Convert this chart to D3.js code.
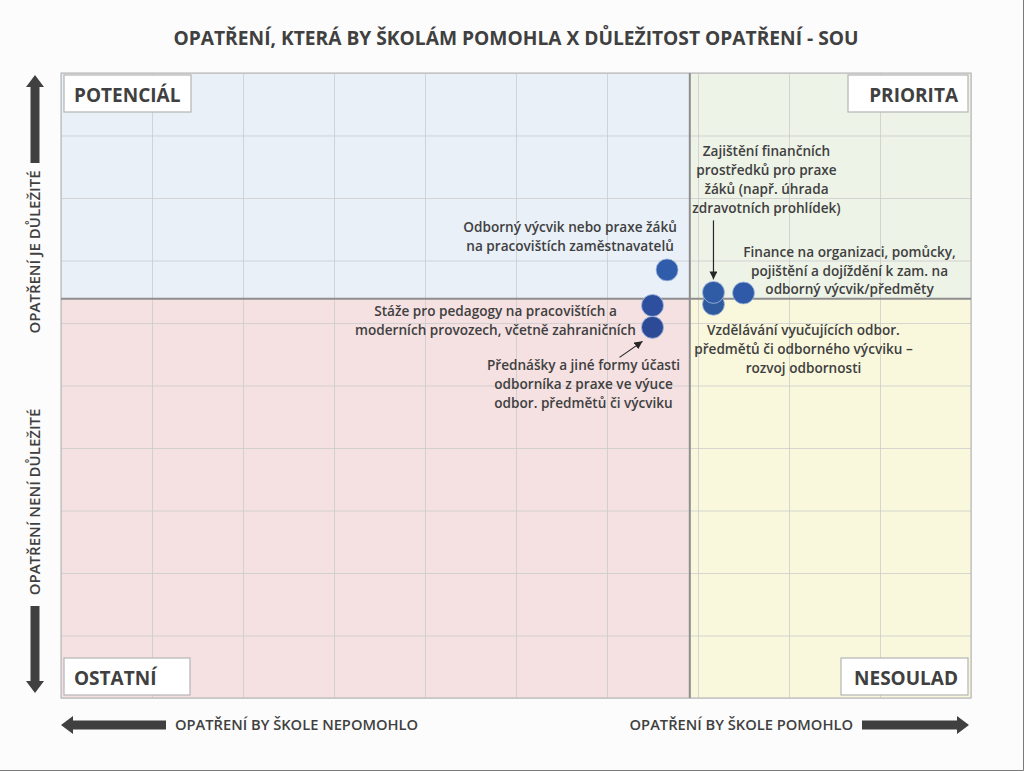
<!DOCTYPE html>
<html>
<head>
<meta charset="utf-8">
<script src="https://cdn.jsdelivr.net/npm/d3@7"></script>
<style>
  html, body { margin: 0; padding: 0; background: #fcfcfc; }
  svg { display: block; }
  text { font-family: "Open Sans", "Noto Sans", sans-serif; fill: #404040; }
</style>
</head>
<body>
<script>
// ---------- DATA ----------
const title = "OPATŘENÍ, KTERÁ BY ŠKOLÁM POMOHLA X DŮLEŽITOST OPATŘENÍ - SOU";
const measures = [
  "Odborný výcvik nebo praxe žáků na pracovištích zaměstnavatelů",
  "Stáže pro pedagogy na pracovištích a moderních provozech, včetně zahraničních",
  "Přednášky a jiné formy účasti odborníka z praxe ve výuce odbor. předmětů či výcviku",
  "Vzdělávání vyučujících odbor. předmětů či odborného výcviku – rozvoj odbornosti",
  "Zajištění finančních prostředků pro praxe žáků (např. úhrada zdravotních prohlídek)",
  "Finance na organizaci, pomůcky, pojištění a dojíždění k zam. na odborný výcvik/předměty"
];
const helpValues = [66.6, 65.0, 65.0, 71.7, 71.7, 75.0];        // x: opatření by škole pomohlo
const importanceValues = [68.5, 62.8, 59.3, 63.0, 64.9, 64.8];  // y: důležitost opatření
const labelLines = [
  ["Odborný výcvik nebo praxe žáků", "na pracovištích zaměstnavatelů"],
  ["Stáže pro pedagogy na pracovištích a", "moderních provozech, včetně zahraničních"],
  ["Přednášky a jiné formy účasti", "odborníka  z praxe ve výuce", "odbor. předmětů či výcviku"],
  ["Vzdělávání vyučujících odbor.", "předmětů či odborného výcviku –", "rozvoj odbornosti"],
  ["Zajištění finančních", "prostředků pro praxe", "žáků (např. úhrada", "zdravotních prohlídek)"],
  ["Finance na organizaci, pomůcky,", "pojištění a dojíždění k zam. na", "odborný výcvik/předměty"]
];
const xDomain = [0, 100];
const yDomain = [0, 100];
const gridTicks = [0, 10, 20, 30, 40, 50, 60, 70, 80, 90, 100];
const xDivider = 69.1;
const yDivider = 63.9;
const quadrantNames = ["POTENCIÁL", "PRIORITA", "OSTATNÍ", "NESOULAD"];
const yAxisTexts = ["OPATŘENÍ JE DŮLEŽITÉ", "OPATŘENÍ NENÍ DŮLEŽITÉ"];
const xAxisTexts = ["OPATŘENÍ BY ŠKOLE NEPOMOHLO", "OPATŘENÍ BY ŠKOLE POMOHLO"];

// ---------- LAYOUT / STYLE ----------
const W = 1024, H = 771;
const plot = { left: 61, right: 971, top: 73, bottom: 698 };
// label placement relative to each point (pixels): text centre x, first-line y, optional arrow
const labelPlace = [
  { dx: -97, dy: -43 },
  { dx: -157, dy: 6 },
  { dx: -69, dy: 38, arrow: [-33, 30, -10, 14] },
  { dx: 90, dy: 26 },
  { dx: 53, dy: -141, arrow: [0, -72, 0, -13] },
  { dx: 106, dy: -41 }
];
const pointColors = ["#2f5dab", "#2d4f9d", "#2c4a96", "#2f5a9e", "#2f5ca4", "#2e5aa8"];
const drawOrder = [0, 1, 2, 3, 4, 5];

const svg = d3.select("body").append("svg").attr("width", W).attr("height", H);

const defs = svg.append("defs");
defs.append("marker").attr("id", "ah").attr("viewBox", "0 0 10 10")
  .attr("refX", 10).attr("refY", 5).attr("markerWidth", 8).attr("markerHeight", 8)
  .attr("markerUnits", "userSpaceOnUse").attr("orient", "auto")
  .append("path").attr("d", "M0,0 L10,5 L0,10 Z").attr("fill", "#262626");

const x = d3.scaleLinear().domain(xDomain).range([plot.left, plot.right]);
const y = d3.scaleLinear().domain(yDomain).range([plot.bottom, plot.top]);

// quadrant backgrounds
const quads = [
  { x0: xDomain[0], x1: xDivider, y0: yDivider, y1: yDomain[1], fill: "#e9f0f8" },
  { x0: xDivider, x1: xDomain[1], y0: yDivider, y1: yDomain[1], fill: "#eef3e8" },
  { x0: xDomain[0], x1: xDivider, y0: yDomain[0], y1: yDivider, fill: "#f5e1e2" },
  { x0: xDivider, x1: xDomain[1], y0: yDomain[0], y1: yDivider, fill: "#f9f8dd" }
];
svg.append("g").selectAll("rect").data(quads).join("rect")
  .attr("x", d => x(d.x0)).attr("y", d => y(d.y1))
  .attr("width", d => x(d.x1) - x(d.x0)).attr("height", d => y(d.y0) - y(d.y1))
  .attr("fill", d => d.fill);

// grid lines via axes
const gx = svg.append("g").attr("transform", `translate(0,${plot.bottom})`)
  .call(d3.axisBottom(x).tickValues(gridTicks).tickSize(-(plot.bottom - plot.top)).tickFormat(""));
const gy = svg.append("g").attr("transform", `translate(${plot.left},0)`)
  .call(d3.axisLeft(y).tickValues(gridTicks).tickSize(-(plot.right - plot.left)).tickFormat(""));
[gx, gy].forEach(g => {
  g.select(".domain").remove();
  g.selectAll(".tick line").attr("stroke", "#c9c9c9").attr("stroke-opacity", 0.75).attr("stroke-width", 1);
});

// plot border
svg.append("rect").attr("x", plot.left).attr("y", plot.top)
  .attr("width", plot.right - plot.left).attr("height", plot.bottom - plot.top)
  .attr("fill", "none").attr("stroke", "#bdbdbd").attr("stroke-width", 1.2);

// dividers
svg.append("line").attr("x1", x(xDivider)).attr("x2", x(xDivider))
  .attr("y1", plot.top).attr("y2", plot.bottom).attr("stroke", "#8e8e8e").attr("stroke-width", 2);
svg.append("line").attr("x1", plot.left).attr("x2", plot.right)
  .attr("y1", y(yDivider)).attr("y2", y(yDivider)).attr("stroke", "#8e8e8e").attr("stroke-width", 2);

// quadrant label boxes
const qBoxes = [
  { x: 64, y: 75, w: 127, h: 37, anchor: "start", tx: 74 },
  { x: 848, y: 75, w: 120, h: 37, anchor: "end", tx: 958 },
  { x: 64, y: 658, w: 126, h: 37, anchor: "start", tx: 74 },
  { x: 841, y: 658, w: 127, h: 37, anchor: "end", tx: 958 }
];
const qg = svg.append("g").selectAll("g").data(quadrantNames).join("g");
qg.append("rect").attr("x", (d, i) => qBoxes[i].x).attr("y", (d, i) => qBoxes[i].y)
  .attr("width", (d, i) => qBoxes[i].w).attr("height", (d, i) => qBoxes[i].h)
  .attr("fill", "#ffffff").attr("stroke", "#b5b5b5").attr("stroke-width", 1.2);
qg.append("text").attr("x", (d, i) => qBoxes[i].tx).attr("y", (d, i) => qBoxes[i].y + qBoxes[i].h / 2 + 1.5)
  .attr("dy", "0.36em").attr("text-anchor", (d, i) => qBoxes[i].anchor)
  .attr("font-size", 19).attr("font-weight", 700).text(d => d);

// title
svg.append("text").attr("x", 516).attr("y", 38).attr("dy", "0.36em").attr("text-anchor", "middle")
  .attr("font-size", 19.2).attr("font-weight", 700).text(title);

// points
const pts = drawOrder.map(i => ({ i, cx: x(helpValues[i]), cy: y(importanceValues[i]) }));
svg.append("g").selectAll("circle").data(pts).join("circle")
  .attr("cx", d => d.cx).attr("cy", d => d.cy).attr("r", 11)
  .attr("fill", d => pointColors[d.i])
  .attr("stroke", "#a9bedf").attr("stroke-width", 0.8);

// labels
const lg = svg.append("g");
measures.forEach((m, i) => {
  const px = x(helpValues[i]), py = y(importanceValues[i]);
  const p = labelPlace[i];
  const t = lg.append("text").attr("text-anchor", "middle").attr("font-size", 13.6)
    .attr("font-weight", 600);
  labelLines[i].forEach((ln, k) => {
    t.append("tspan").attr("x", px + p.dx).attr("y", py + p.dy + k * 18.8)
      .attr("dy", "0.36em").text(ln);
  });
  if (p.arrow) {
    lg.append("line").attr("x1", px + p.arrow[0]).attr("y1", py + p.arrow[1])
      .attr("x2", px + p.arrow[2]).attr("y2", py + p.arrow[3])
      .attr("stroke", "#262626").attr("stroke-width", 1.2).attr("marker-end", "url(#ah)");
  }
});

// big axis arrows
function bigArrow(x1, y1, x2, y2) {
  const ang = Math.atan2(y2 - y1, x2 - x1);
  const len = Math.hypot(x2 - x1, y2 - y1);
  const hw = 4.5, hh = 9, hl = 12;
  const d = `M0,${-hw} L${len - hl},${-hw} L${len - hl},${-hh} L${len},0 L${len - hl},${hh} L${len - hl},${hw} L0,${hw} Z`;
  svg.append("path").attr("d", d)
    .attr("transform", `translate(${x1},${y1}) rotate(${ang * 180 / Math.PI})`)
    .attr("fill", "#404040");
}
bigArrow(35, 163, 35, 75);
bigArrow(35, 606, 35, 693);
bigArrow(166, 725, 61, 725);
bigArrow(862, 725, 969, 725);

// axis texts
svg.append("text").attr("transform", "translate(35,252) rotate(-90)").attr("text-anchor", "middle")
  .attr("dy", "0.36em").attr("font-size", 15).attr("font-weight", 600).text(yAxisTexts[0]);
svg.append("text").attr("transform", "translate(35,502) rotate(-90)").attr("text-anchor", "middle")
  .attr("dy", "0.36em").attr("font-size", 15).attr("font-weight", 600).text(yAxisTexts[1]);
svg.append("text").attr("x", 175).attr("y", 725).attr("dy", "0.36em").attr("text-anchor", "start")
  .attr("font-size", 14.7).attr("font-weight", 600).text(xAxisTexts[0]);
svg.append("text").attr("x", 853).attr("y", 725).attr("dy", "0.36em").attr("text-anchor", "end")
  .attr("font-size", 14.7).attr("font-weight", 600).text(xAxisTexts[1]);

// outer frame edges (right/bottom)
svg.append("path").attr("d", `M${W - 0.5},0 V${H - 0.5} H0`).attr("fill", "none")
  .attr("stroke", "#7a7a7a").attr("stroke-width", 1);
</script>
</body>
</html>
